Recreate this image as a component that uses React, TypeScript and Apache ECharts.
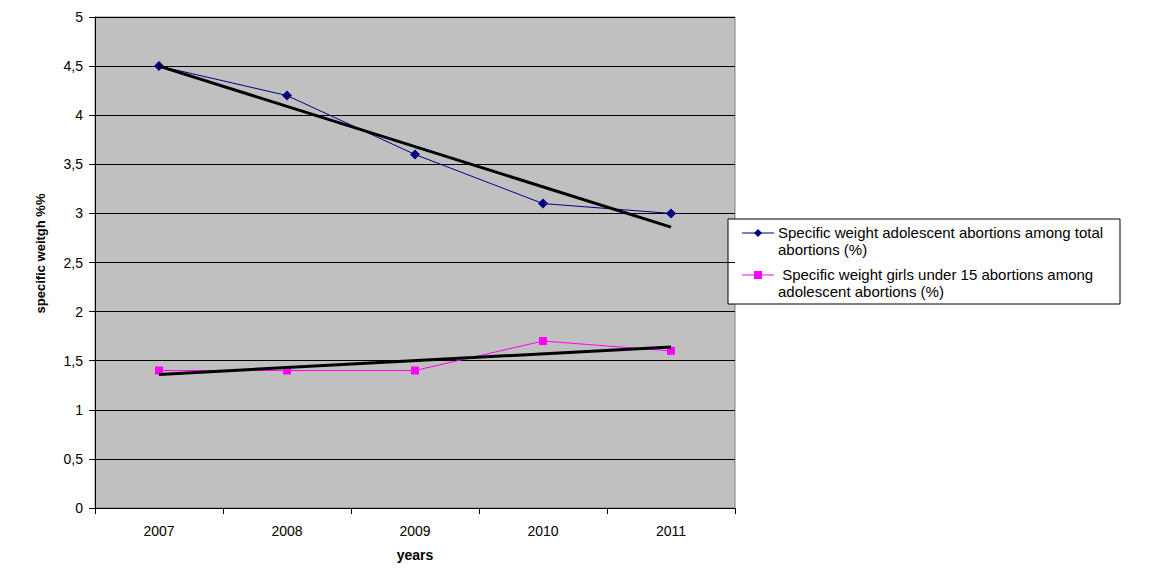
import React, { useEffect, useRef } from "react";
import * as echarts from "echarts";

const years = ["2007", "2008", "2009", "2010", "2011"];
const adolescentShare = [4.5, 4.2, 3.6, 3.1, 3.0];
const under15Share = [1.4, 1.4, 1.4, 1.7, 1.6];
const adolescentTrend = [4.5, null, null, null, 2.86];
const under15Trend = [1.36, null, null, null, 1.64];
const legendNames = [
  "Specific weight adolescent abortions among total\nabortions (%)",
  " Specific weight girls under 15 abortions among\nadolescent abortions (%)",
];

const FONT = "'Liberation Sans', Arial, sans-serif";

export default function App() {
  const ref = useRef<HTMLDivElement>(null);
  useEffect(() => {
    const chart = echarts.init(ref.current!, null, { renderer: "svg" });
    const legendX = 728;
    const legendY = 219;
    const legendItem = (i: number, y: number, color: string, symbol: any) => ({
      type: "group",
      children: [
        { type: "line", shape: { x1: legendX + 14, y1: y, x2: legendX + 46, y2: y }, style: { stroke: color, lineWidth: 1 } },
        symbol,
        {
          type: "text",
          x: legendX + 50,
          y: y - 9,
          style: { text: legendNames[i], font: `15px ${FONT}`, fill: "#000", lineHeight: 17, textVerticalAlign: "top" },
        },
      ],
    });
    chart.setOption({
      animation: false,
      textStyle: { fontFamily: FONT },
      grid: {
        left: 95,
        right: 414,
        top: 17,
        bottom: 78,
        show: true,
        backgroundColor: "#C0C0C0",
        borderColor: "#808080",
        borderWidth: 1,
      },
      xAxis: {
        type: "category",
        data: years,
        boundaryGap: true,
        name: "years",
        nameLocation: "middle",
        nameGap: 40,
        nameTextStyle: { fontWeight: "bold", fontSize: 14, color: "#000", fontFamily: FONT },
        axisLine: { lineStyle: { color: "#000", width: 1 } },
        axisTick: { show: true, alignWithLabel: false, length: 6, lineStyle: { color: "#000" } },
        axisLabel: { color: "#000", fontSize: 14, margin: 16, fontFamily: FONT },
        splitLine: { show: false },
      },
      yAxis: {
        type: "value",
        min: 0,
        max: 5,
        interval: 0.5,
        name: "specific weitgh %%",
        nameLocation: "middle",
        nameGap: 48,
        nameTextStyle: {
          fontWeight: "bold",
          fontSize: 13,
          color: "#000",
          fontFamily: FONT,
          padding: [0, 0, 0, 18],
        },
        axisLine: { show: true, lineStyle: { color: "#000", width: 1 } },
        axisTick: { show: true, length: 6, lineStyle: { color: "#000" } },
        axisLabel: {
          color: "#000",
          fontSize: 14,
          margin: 12,
          fontFamily: FONT,
          formatter: (v: number) => String(v).replace(".", ","),
        },
        splitLine: { show: true, lineStyle: { color: "#000", width: 1 } },
      },
      series: [
        {
          name: "adolescent",
          type: "line",
          data: adolescentShare,
          symbol: "diamond",
          symbolSize: 10,
          itemStyle: { color: "#000080" },
          lineStyle: { color: "#000080", width: 1 },
          z: 3,
        },
        {
          name: "under15",
          type: "line",
          data: under15Share,
          symbol: "rect",
          symbolSize: 8,
          itemStyle: { color: "#FF00FF" },
          lineStyle: { color: "#FF00FF", width: 1 },
          z: 3,
        },
        {
          name: "trend1",
          type: "line",
          data: adolescentTrend,
          connectNulls: true,
          showSymbol: false,
          symbol: "none",
          lineStyle: { color: "#000", width: 3 },
          z: 4,
        },
        {
          name: "trend2",
          type: "line",
          data: under15Trend,
          connectNulls: true,
          showSymbol: false,
          symbol: "none",
          lineStyle: { color: "#000", width: 3 },
          z: 4,
        },
      ],
      graphic: [
        {
          type: "rect",
          shape: { x: legendX, y: legendY, width: 392, height: 85 },
          style: { fill: "#fff", stroke: "#000", lineWidth: 1 },
        },
        legendItem(0, 233, "#000080", {
          type: "polygon",
          shape: { points: [[legendX + 30, 229], [legendX + 34, 233], [legendX + 30, 237], [legendX + 26, 233]] },
          style: { fill: "#000080" },
        }),
        legendItem(1, 275, "#FF00FF", {
          type: "rect",
          shape: { x: legendX + 26, y: 271, width: 8, height: 8 },
          style: { fill: "#FF00FF" },
        }),
      ],
    });
    return () => chart.dispose();
  }, []);
  return (
    <div
      ref={ref}
      style={{ position: "fixed", left: 0, top: 0, width: 1149, height: 586, background: "#fff" }}
    />
  );
}
